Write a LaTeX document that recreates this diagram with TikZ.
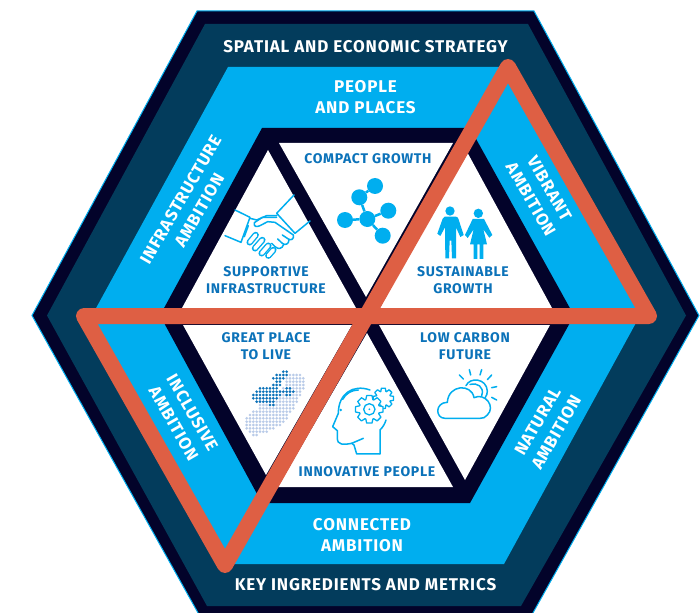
\documentclass[tikz,border=0pt]{standalone}
\usepackage{fontspec}
\setmainfont{Fira Sans}[LetterSpace=5]
\usetikzlibrary{calc}
\definecolor{hexcyan}{HTML}{00AEEF}
\definecolor{hexnavy}{HTML}{03032A}
\definecolor{hexteal}{HTML}{033C5C}
\definecolor{ambred}{HTML}{DE5F44}
\definecolor{labelblue}{HTML}{0B72B9}
\definecolor{dotpale}{HTML}{B9CBE8}
\tikzset{
  bandtext/.style={text=white,align=center,font=\fontsize{17}{21.5}\selectfont\bfseries,inner sep=0pt},
  triotext/.style={text=labelblue,align=center,font=\fontsize{14}{17}\selectfont\bfseries,inner sep=0pt},
  atom/.style={circle,fill=hexcyan,minimum size=16pt,inner sep=0pt},
  iconline/.style={draw=hexcyan,line width=1.5pt,line cap=round,line join=round},
  finger/.style={line width=1.4pt,draw=hexcyan,double=white,double distance=3.6pt,line cap=round},
}
\newcommand{\gearshape}[4]{%
  \draw [iconline, line width=1.3pt, fill=white] ($(#1,#2)+(-20:#3)$)
    \foreach \a in {0,45,...,315} {
      -- ($(#1,#2)+(\a-20:#3)$) -- ($(#1,#2)+(\a-11:#4)$) -- ($(#1,#2)+(\a+11:#4)$) -- ($(#1,#2)+(\a+20:#3)$)
    } -- cycle;
}
\begin{document}
\begin{tikzpicture}[x=1pt,y=-1pt]
    \useasboundingbox (0,0) rectangle (700,612);
    \clip (0,0) rectangle (700,612);
    \fill [hexnavy, draw=hexcyan, line width=1pt] (197,11) -- (534,11) -- (699,315.5) -- (529,620) -- (202,620) -- (32,315.5) -- cycle;
    \fill [hexteal] (205,24) -- (528,24) -- (686,315.5) -- (521,606) -- (207,606) -- (47,315.5) -- cycle;
    \fill [hexcyan] (228,67) -- (505,67) -- (640,315.5) -- (504,564) -- (228,564) -- (92,315.5) -- cycle;
    \fill [hexnavy] (262,128) -- (470,128) -- (574,315.5) -- (470,503) -- (262,503) -- (160,315.5) -- cycle;

    \fill [white] (279,143) -- (453,143) -- (366,297) -- cycle;
    \fill [white] (268,150) -- (356,308) -- (182,308) -- cycle;
    \fill [white] (466,150) -- (552,308) -- (380,308) -- cycle;
    \fill [white] (183,325) -- (352,325) -- (266,475) -- cycle;
    \fill [white] (367,333) -- (453,487) -- (278,487) -- cycle;
    \fill [white] (379,325) -- (550,325) -- (465,480) -- cycle;

    \node [bandtext] (strategy) at (365.5,47) {SPATIAL AND ECONOMIC STRATEGY};
    \node [bandtext] (metrics) at (365.5,585) {KEY INGREDIENTS AND METRICS};
    \node [bandtext] (people) at (365.5,97) {PEOPLE\\AND PLACES};
    \node [bandtext] (connected) at (362,535) {CONNECTED\\AMBITION};
    \node [bandtext, rotate=60] (infra) at (190,205) {INFRASTRUCTURE\\AMBITION};
    \node [bandtext, rotate=-60] (vibrant) at (540,194) {VIBRANT\\AMBITION};
    \node [bandtext, rotate=-60] (inclusive) at (183,418) {INCLUSIVE\\AMBITION};
    \node [bandtext, rotate=60] (natural) at (547,427) {NATURAL\\AMBITION};

    \node [triotext] (compact) at (368,159) {COMPACT GROWTH};
    \node [triotext] (supportive) at (266,280.5) {SUPPORTIVE\\INFRASTRUCTURE};
    \node [triotext] (sustainable) at (463,280.5) {SUSTAINABLE\\GROWTH};
    \node [triotext] (great) at (266,346.5) {GREAT PLACE\\TO LIVE};
    \node [triotext] (lowcarbon) at (465,346.5) {LOW CARBON\\FUTURE};
    \node [triotext] (innovative) at (367,472) {INNOVATIVE PEOPLE};

    % molecule
    \node [atom] (atoma) at (375,186) {};
    \node [atom] (atomb) at (359.3,197.3) {};
    \node [atom] (atomc) at (367.3,219) {};
    \node [atom] (atomd) at (345,220) {};
    \node [atom] (atome) at (388.3,210.7) {};
    \node [atom] (atomf) at (382.7,235.7) {};
    \draw [hexcyan, line width=2.5pt] (atoma) -- (atomb) -- (atomc) -- (atomd);
    \draw [hexcyan, line width=2.5pt] (atome) -- (atomc) -- (atomf);

    % handshake
    \begin{scope}[shift={(225,185)}, scale=0.3333]
    \draw [iconline] (30,75) -- (75,97) -- (48,172) -- (0,152);
    \draw [iconline] (207,30) -- (155,85) -- (210,145) -- (255,108);
    \draw [iconline] (75,100) -- (95,105) -- (125,92) -- (155,92);
    \draw [iconline] (155,97) -- (112,97) -- (88,113) .. controls (85,125) and (95,127) .. (105,122) -- (128,110) -- (150,112) -- (205,150) .. controls (208,162) and (198,168) .. (190,162) -- (172,150);
    \draw [iconline] (192,164) .. controls (192,178) and (180,182) .. (172,175) -- (158,162);
    \draw [iconline] (176,178) .. controls (172,192) and (160,194) .. (150,185) -- (140,175);
    \draw [iconline] (70,122) -- (58,155);
    \draw [finger] (74,172) -- (92,150);
    \draw [finger] (90,190) -- (112,165);
    \draw [finger] (110,205) -- (130,182);
    \draw [finger] (130,212) -- (145,195);
    \end{scope}

    % people
    \begin{scope}[shift={(430,200)}, scale=0.3333]
    \fill [hexcyan] (60,33) circle [radius=14];
    \fill [hexcyan] (145,40) circle [radius=14];
    \fill [hexcyan] (44,50) -- (78,50) .. controls (82,50) and (84,54) .. (85,56) -- (101,105) -- (91,111) -- (78,82) -- (78,175) -- (66,175) -- (64,122) -- (59,122) -- (57,175) -- (46,175) -- (45,82) -- (31,108) -- (22,101) -- (38,56) .. controls (39,53) and (41,50) .. (44,50) -- cycle;
    \fill [hexcyan] (128,57) -- (162,57) -- (187,105) -- (178,113) -- (160,88) -- (171,133) -- (160,133) -- (160,177) -- (149,177) -- (149,133) -- (142,133) -- (142,177) -- (131,177) -- (131,133) -- (120,133) -- (131,88) -- (113,114) -- (105,105) -- cycle;
    \end{scope}

    % dots of the island
    \begin{scope}[shift={(240,365)}, scale=0.3333]
    \foreach \y/\a/\n in {30/150/3, 40/140/5, 50/140/5, 60/140/5, 70/130/6, 80/120/6, 90/120/6, 100/60/11, 110/50/12, 120/60/10, 130/60/10, 140/40/11, 150/30/11, 160/20/12, 170/20/11, 180/20/10, 190/20/8, 200/30/5, 210/40/1} {
      \foreach \i in {0,...,\n} {
        \fill [dotpale] (\a+10*\i,\y) circle [radius=4.4];
      }
    }
    \foreach \y/\a/\n in {20/130/1, 30/110/3, 40/100/3, 50/110/1, 60/100/2, 70/60/5, 70/140/1, 80/50/11, 90/40/8, 90/140/1, 100/40/7, 110/50/5, 120/90/1} {
      \foreach \i in {0,...,\n} {
        \fill [labelblue] (\a+10*\i,\y) circle [radius=4.4];
      }
    }
    \end{scope}

    % head with gears
    \begin{scope}[shift={(330,380)}, scale=0.3333]
    \draw [iconline] (150,222) -- (150,150) .. controls (160,140) and (165,130) .. (168,120);
    \draw [iconline] (120,30) .. controls (70,12) and (25,40) .. (25,100) -- (8,140) -- (22,152) -- (22,175) .. controls (22,195) and (40,195) .. (65,190) -- (72,195) -- (80,222) -- (150,222);
    \draw [iconline] (100,175) -- (65,190);
    \draw [iconline] (38,58) .. controls (48,40) and (65,30) .. (85,30);
    \fill [hexcyan] (32,90) circle [radius=4];
    \gearshape{160}{55}{22}{31}
    \gearshape{118}{88}{31}{42}
    \draw [iconline, line width=1.3pt] (118,88) circle [radius=17];
    \fill [hexcyan] (118,88) circle [radius=3];
    \end{scope}

    % cloud and sun
    \begin{scope}[shift={(430,365)}, scale=0.3333]
    \draw [iconline] (45,160) .. controls (15,160) and (15,112) .. (52,112) .. controls (55,58) and (125,55) .. (132,98) .. controls (165,82) and (198,125) .. (172,150) .. controls (165,158) and (160,160) .. (150,160) -- cycle;
    \draw [iconline] (108,62) .. controls (120,35) and (170,40) .. (172,78) .. controls (172,85) and (170,92) .. (166,97);
    \draw [iconline] (120,58) .. controls (140,52) and (165,65) .. (155,92);
    \draw [iconline] (88,30) -- (100,42);
    \draw [iconline] (118,14) -- (122,30);
    \draw [iconline] (155,14) -- (150,30);
    \draw [iconline] (185,30) -- (172,44);
    \draw [iconline] (200,65) -- (185,68);
    \draw [iconline] (200,105) -- (185,97);
    \end{scope}

    \draw [ambred, line width=16pt, line join=round] (508,67) -- (649,316) -- (84,316) -- (225,565) -- cycle;
\end{tikzpicture}
\end{document}
